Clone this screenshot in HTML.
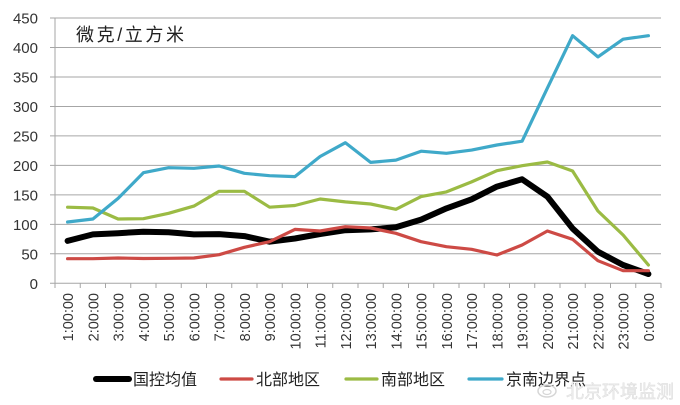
<!DOCTYPE html>
<html><head><meta charset="utf-8"><style>
html,body{margin:0;padding:0;background:#fff;}
svg{display:block;}
text{font-family:"Liberation Sans","Noto Sans CJK SC",sans-serif;}
</style></head><body>
<svg width="680" height="405" viewBox="0 0 680 405" xmlns="http://www.w3.org/2000/svg">
<rect width="680" height="405" fill="#fff"/>
<g stroke="#a6a6a6" stroke-width="1">
<line x1="50" y1="18" x2="661" y2="18"/>
<line x1="50" y1="47.5" x2="661" y2="47.5"/>
<line x1="50" y1="77" x2="661" y2="77"/>
<line x1="50" y1="106.5" x2="661" y2="106.5"/>
<line x1="50" y1="135.9" x2="661" y2="135.9"/>
<line x1="50" y1="165.4" x2="661" y2="165.4"/>
<line x1="50" y1="194.9" x2="661" y2="194.9"/>
<line x1="50" y1="224.4" x2="661" y2="224.4"/>
<line x1="50" y1="253.8" x2="661" y2="253.8"/>
<line x1="50" y1="283.3" x2="661" y2="283.3"/>
<line x1="55" y1="18" x2="55" y2="288"/>
</g>
<g stroke="#a6a6a6" stroke-width="1">
<line x1="80.25" y1="283" x2="80.25" y2="288"/><line x1="105.5" y1="283" x2="105.5" y2="288"/><line x1="130.75" y1="283" x2="130.75" y2="288"/><line x1="156" y1="283" x2="156" y2="288"/><line x1="181.25" y1="283" x2="181.25" y2="288"/><line x1="206.5" y1="283" x2="206.5" y2="288"/><line x1="231.75" y1="283" x2="231.75" y2="288"/><line x1="257" y1="283" x2="257" y2="288"/><line x1="282.25" y1="283" x2="282.25" y2="288"/><line x1="307.5" y1="283" x2="307.5" y2="288"/><line x1="332.75" y1="283" x2="332.75" y2="288"/><line x1="358" y1="283" x2="358" y2="288"/><line x1="383.25" y1="283" x2="383.25" y2="288"/><line x1="408.5" y1="283" x2="408.5" y2="288"/><line x1="433.75" y1="283" x2="433.75" y2="288"/><line x1="459" y1="283" x2="459" y2="288"/><line x1="484.25" y1="283" x2="484.25" y2="288"/><line x1="509.5" y1="283" x2="509.5" y2="288"/><line x1="534.75" y1="283" x2="534.75" y2="288"/><line x1="560" y1="283" x2="560" y2="288"/><line x1="585.25" y1="283" x2="585.25" y2="288"/><line x1="610.5" y1="283" x2="610.5" y2="288"/><line x1="635.75" y1="283" x2="635.75" y2="288"/><line x1="661" y1="283" x2="661" y2="288"/>
</g>
<g font-size="15" fill="#333" text-anchor="end">
<text x="38" y="23.5">450</text>
<text x="38" y="53">400</text>
<text x="38" y="82.5">350</text>
<text x="38" y="112">300</text>
<text x="38" y="141.4">250</text>
<text x="38" y="170.9">200</text>
<text x="38" y="200.4">150</text>
<text x="38" y="229.9">100</text>
<text x="38" y="259.3">50</text>
<text x="38" y="288.8">0</text>
</g>
<text x="76" y="41" font-size="18" fill="#222" textLength="108" lengthAdjust="spacing">微克/立方米</text>
<g font-size="14.5" fill="#333" text-anchor="end">
<text transform="translate(73.1,293) rotate(-90)">1:00:00</text>
<text transform="translate(98.4,293) rotate(-90)">2:00:00</text>
<text transform="translate(123.6,293) rotate(-90)">3:00:00</text>
<text transform="translate(148.9,293) rotate(-90)">4:00:00</text>
<text transform="translate(174.1,293) rotate(-90)">5:00:00</text>
<text transform="translate(199.4,293) rotate(-90)">6:00:00</text>
<text transform="translate(224.6,293) rotate(-90)">7:00:00</text>
<text transform="translate(249.9,293) rotate(-90)">8:00:00</text>
<text transform="translate(275.1,293) rotate(-90)">9:00:00</text>
<text transform="translate(300.4,293) rotate(-90)">10:00:00</text>
<text transform="translate(325.6,293) rotate(-90)">11:00:00</text>
<text transform="translate(350.9,293) rotate(-90)">12:00:00</text>
<text transform="translate(376.1,293) rotate(-90)">13:00:00</text>
<text transform="translate(401.4,293) rotate(-90)">14:00:00</text>
<text transform="translate(426.6,293) rotate(-90)">15:00:00</text>
<text transform="translate(451.9,293) rotate(-90)">16:00:00</text>
<text transform="translate(477.1,293) rotate(-90)">17:00:00</text>
<text transform="translate(502.4,293) rotate(-90)">18:00:00</text>
<text transform="translate(527.6,293) rotate(-90)">19:00:00</text>
<text transform="translate(552.9,293) rotate(-90)">20:00:00</text>
<text transform="translate(578.1,293) rotate(-90)">21:00:00</text>
<text transform="translate(603.4,293) rotate(-90)">22:00:00</text>
<text transform="translate(628.6,293) rotate(-90)">23:00:00</text>
<text transform="translate(653.9,293) rotate(-90)">0:00:00</text>
</g>
<g fill="none" stroke-linejoin="round" stroke-linecap="round">
<polyline stroke="#000" stroke-width="6" points="67.6,240.9 92.9,234.4 118.1,233.2 143.4,231.7 168.6,232.3 193.9,234.4 219.1,234.1 244.4,236.1 269.6,241.7 294.9,238.5 320.1,234.0 345.4,230.2 370.6,229.4 395.9,227.3 421.1,219.6 446.4,208.4 471.6,199.3 496.9,186.6 522.1,179.3 547.4,196.6 572.6,228.5 597.9,251.7 623.1,265.0 648.4,274.0"/>
<polyline stroke="#cd4a45" stroke-width="3.2" points="67.6,258.7 92.9,258.7 118.1,258.0 143.4,258.5 168.6,258.3 193.9,258.0 219.1,254.7 244.4,247.3 269.6,241.7 294.9,229.4 320.1,231.0 345.4,226.7 370.6,228.0 395.9,233.3 421.1,241.7 446.4,246.7 471.6,249.3 496.9,255.0 522.1,245.0 547.4,231.0 572.6,239.3 597.9,260.7 623.1,270.7 648.4,270.7"/>
<polyline stroke="#9bbb44" stroke-width="3.2" points="67.6,207.2 92.9,208.0 118.1,219.0 143.4,218.7 168.6,213.3 193.9,206.1 219.1,191.3 244.4,191.3 269.6,207.2 294.9,205.5 320.1,199.0 345.4,201.9 370.6,204.0 395.9,209.3 421.1,196.6 446.4,191.9 471.6,181.9 496.9,170.7 522.1,165.7 547.4,162.0 572.6,171.0 597.9,211.0 623.1,235.0 648.4,265.0"/>
<polyline stroke="#3fa9c9" stroke-width="3.2" points="67.6,222.0 92.9,219.0 118.1,198.4 143.4,172.7 168.6,167.7 193.9,168.3 219.1,166.0 244.4,173.3 269.6,175.7 294.9,176.6 320.1,156.5 345.4,142.7 370.6,162.4 395.9,160.1 421.1,151.2 446.4,153.3 471.6,150.1 496.9,145.0 522.1,141.2 547.4,88.1 572.6,35.7 597.9,56.9 623.1,39.2 648.4,35.7"/>
</g>
<g stroke-linecap="round" fill="none">
<line x1="96" y1="379" x2="129" y2="379" stroke="#000" stroke-width="6"/>
<line x1="221" y1="379" x2="252" y2="379" stroke="#cd4a45" stroke-width="3.2"/>
<line x1="346" y1="379" x2="377" y2="379" stroke="#9bbb44" stroke-width="3.2"/>
<line x1="469" y1="379" x2="502" y2="379" stroke="#3fa9c9" stroke-width="3.2"/>
</g>
<g font-size="16" fill="#222">
<text x="133" y="385">国控均值</text>
<text x="256" y="385">北部地区</text>
<text x="381" y="385">南部地区</text>
<text x="506" y="385">京南边界点</text>
</g>
<g>
<ellipse cx="547" cy="391" rx="9" ry="6" fill="none" stroke="#d6d6d6" stroke-width="1.5"/>
<ellipse cx="547" cy="392" rx="4" ry="2.5" fill="none" stroke="#d6d6d6" stroke-width="1.2"/>
<text x="566" y="398" font-size="18" fill="#ececec" stroke="#dadada" stroke-width="0.4">北京环境监测</text>
</g>
</svg>
</body></html>
